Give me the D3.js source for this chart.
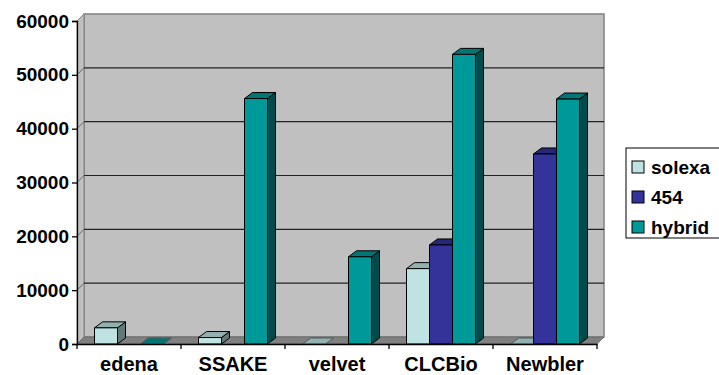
<!DOCTYPE html>
<html lang="en">
<head>
<meta charset="utf-8">
<script src="https://d3js.org/d3.v7.min.js"></script>
<style type="text/css">
body {
	margin: 0;
	background: #fff;
	font-family: "Liberation Sans", Arial, sans-serif;
}
text {
	font-weight: bold;
	fill: #000;
}
</style>
</head>
<body>
<script type="text/javascript">

// chart data
var categories = ["edena", "SSAKE", "velvet", "CLCBio", "Newbler"];
var seriesNames = ["solexa", "454", "hybrid"];
var solexa = [3000, 1200, 0, 14000, 0];
var s454 = [null, null, null, 18400, 35300];
var hybrid = [0, 45600, 16200, 53800, 45500];
var yTicks = [0, 10000, 20000, 30000, 40000, 50000, 60000];

var seriesValues = [solexa, s454, hybrid];

// face / top / side colours per series
var colors = {
	solexa: ["#bfe2e2", "#93b0b0", "#627878"],
	"454": ["#333399", "#27277a", "#1b1b50"],
	hybrid: ["#009999", "#007676", "#004c4c"]
};

var width = 719;
var height = 375;

// plot front plane (top is a reserved window name, so use plot*)
var plotLeft = 77, plotRight = 597, plotBottom = 344, plotTop = 21;
// depth of wall and bars
var wallDx = 7, wallDy = 7;
var barDx = 8, barDy = 6;

var svg = d3.select("body")
	.append("svg")
	.attr("width", width)
	.attr("height", height);

var y = d3.scaleLinear()
	.domain([0, 60000])
	.range([plotBottom, plotTop]);

var x0 = d3.scaleBand()
	.domain(categories)
	.range([plotLeft, plotRight]);

var x1 = d3.scaleBand()
	.domain(seriesNames)
	.range([17.5, x0.bandwidth() - 17.5]);

// back wall
svg.append("rect")
	.attr("x", plotLeft + wallDx)
	.attr("y", plotTop - wallDy)
	.attr("width", plotRight - plotLeft)
	.attr("height", plotBottom - plotTop)
	.style("fill", "#c0c0c0")
	.style("stroke", "#808080")
	.style("stroke-width", 1.5);

// left wall
svg.append("path")
	.attr("d", "M" + plotLeft + "," + plotBottom + "L" + plotLeft + "," + plotTop +
		"L" + (plotLeft + wallDx) + "," + (plotTop - wallDy) +
		"L" + (plotLeft + wallDx) + "," + (plotBottom - wallDy) + "Z")
	.style("fill", "#c0c0c0")
	.style("stroke", "#808080")
	.style("stroke-width", 1);

// gridlines on back wall and left wall
var grid = svg.append("g");
yTicks.slice(1, -1).forEach(function(t) {
	grid.append("line")
		.attr("x1", plotLeft + wallDx).attr("x2", plotRight + wallDx)
		.attr("y1", y(t) - wallDy).attr("y2", y(t) - wallDy)
		.style("stroke", "#222")
		.style("stroke-width", 1.2);
	grid.append("line")
		.attr("x1", plotLeft).attr("x2", plotLeft + wallDx)
		.attr("y1", y(t)).attr("y2", y(t) - wallDy)
		.style("stroke", "#666")
		.style("stroke-width", 1);
});

// floor
svg.append("path")
	.attr("d", "M" + plotLeft + "," + plotBottom + "L" + plotRight + "," + plotBottom +
		"L" + (plotRight + wallDx) + "," + (plotBottom - wallDy) +
		"L" + (plotLeft + wallDx) + "," + (plotBottom - wallDy) + "Z")
	.style("fill", "#808080")
	.style("stroke", "#666")
	.style("stroke-width", 0.8);

// bars
var bars = svg.append("g");
categories.forEach(function(cat, ci) {
	seriesNames.forEach(function(s, si) {
		var v = seriesValues[si][ci];
		if (v === null) return;
		var bx = x0(cat) + x1(s);
		var bw = x1.bandwidth();
		var by = y(v);
		var c = colors[s];
		var g = bars.append("g")
			.style("stroke", "#000")
			.style("stroke-width", 1)
			.style("stroke-linejoin", "round");
		if (v > 0) {
			// side
			g.append("path")
				.attr("d", "M" + (bx + bw) + "," + plotBottom + "L" + (bx + bw) + "," + by +
					"L" + (bx + bw + barDx) + "," + (by - barDy) +
					"L" + (bx + bw + barDx) + "," + (plotBottom - barDy) + "Z")
				.style("fill", c[2]);
		}
		// top
		g.append("path")
			.attr("d", "M" + bx + "," + by + "L" + (bx + bw) + "," + by +
				"L" + (bx + bw + barDx) + "," + (by - barDy) +
				"L" + (bx + barDx) + "," + (by - barDy) + "Z")
			.style("fill", c[1])
			.style("stroke", v > 0 ? "#000" : "#555");
		if (v > 0) {
			// front
			g.append("rect")
				.attr("x", bx)
				.attr("y", by)
				.attr("width", bw)
				.attr("height", plotBottom - by)
				.style("fill", c[0]);
		}
	});
});

// y axis
var yAxis = svg.append("g")
	.attr("transform", "translate(" + plotLeft + ",0)")
	.call(d3.axisLeft(y).tickValues(yTicks).tickSize(5).tickPadding(3).tickFormat(d3.format("d")));
yAxis.select(".domain").attr("stroke", "#000").attr("stroke-width", 1.3);
yAxis.selectAll(".tick line").attr("stroke", "#000").attr("stroke-width", 1.3);
yAxis.selectAll(".tick text")
	.style("font-family", "'Liberation Sans', Arial, sans-serif")
	.style("font-size", "19px")
	.style("font-weight", "bold");

// x axis
var xAxis = svg.append("g")
	.attr("transform", "translate(0," + plotBottom + ")")
	.call(d3.axisBottom(x0).tickSize(0).tickPadding(13).tickSizeOuter(0));
xAxis.select(".domain").attr("stroke", "#000").attr("stroke-width", 1.3);
xAxis.selectAll(".tick text")
	.style("font-family", "'Liberation Sans', Arial, sans-serif")
	.style("font-size", "20px")
	.style("font-weight", "bold");

// category separators
var seps = categories.map(function(c) { return x0(c); }).concat([plotRight]);
xAxis.selectAll(".sep")
	.data(seps)
	.enter()
	.append("line")
	.attr("class", "sep")
	.attr("x1", function(d) { return d; })
	.attr("x2", function(d) { return d; })
	.attr("y1", 0)
	.attr("y2", 5)
	.attr("stroke", "#000")
	.attr("stroke-width", 1.3);

// legend
var legend = svg.append("g")
	.attr("transform", "translate(626,148)");
legend.append("rect")
	.attr("x", 0)
	.attr("y", 0)
	.attr("width", 110)
	.attr("height", 90)
	.style("fill", "#fff")
	.style("stroke", "#000")
	.style("stroke-width", 1);

var items = legend.selectAll(".item")
	.data(seriesNames)
	.enter()
	.append("g")
	.attr("class", "item")
	.attr("transform", function(d, i) { return "translate(6," + (19 + i * 30) + ")"; });

items.append("rect")
	.attr("x", 0)
	.attr("y", -6)
	.attr("width", 12)
	.attr("height", 12)
	.style("fill", function(d) { return colors[d][0]; })
	.style("stroke", "#000")
	.style("stroke-width", 1);

items.append("text")
	.attr("x", 19)
	.attr("y", 0)
	.attr("dy", "0.36em")
	.style("font-size", "19px")
	.text(function(d) { return d; });

</script>
</body>
</html>
